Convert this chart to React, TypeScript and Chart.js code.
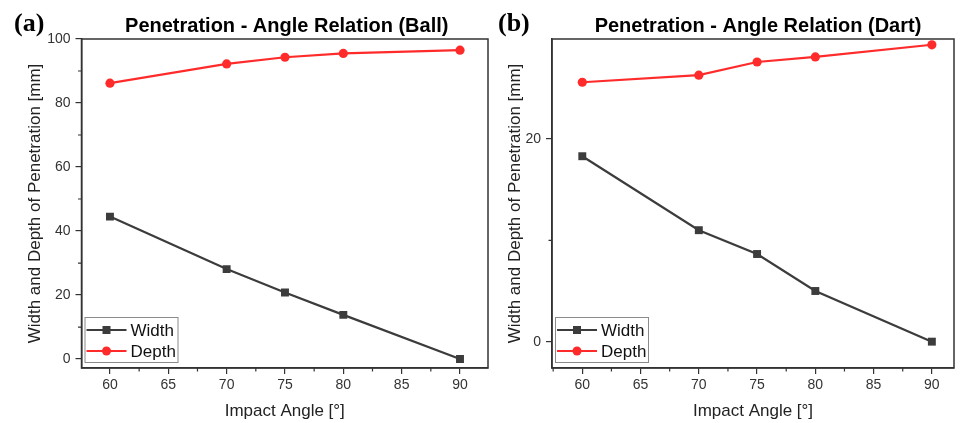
import React, { useEffect, useRef } from "react";
import { Chart, registerables } from "chart.js";

Chart.register(...registerables);

// ---------- data ----------
const angles = [60, 70, 75, 80, 90];
const ballWidth = [44.5, 28.1, 20.8, 13.8, 0];
const ballDepth = [86.2, 92.2, 94.3, 95.5, 96.5];
const dartWidth = [18.3, 11.0, 8.65, 5.0, 0];
const dartDepth = [25.6, 26.3, 27.6, 28.1, 29.3];
const seriesNames = ["Width", "Depth"];
const chartTitles = [
  "Penetration - Angle Relation (Ball)",
  "Penetration - Angle Relation (Dart)",
];
const panelLabels = ["(a)", "(b)"];
const xAxisTitle = "Impact Angle [°]";
const yAxisTitle = "Width and Depth of Penetration [mm]";
const xMajorStep = 5;
const yMajorStep = 20;

const FONT = "'Liberation Sans', Arial, sans-serif";
const WIDTH_COLOR = "#3c3c3c";
const DEPTH_COLOR = "#ff2b2b";
const AXIS_COLOR = "#333333";
const H = 423;

const decorPlugin = {
  id: "decor",
  afterDraw(chart: any, _args: any, opts: any) {
    const ctx = chart.ctx as CanvasRenderingContext2D;
    const a = chart.chartArea;
    ctx.save();
    // frame
    ctx.strokeStyle = AXIS_COLOR;
    ctx.lineWidth = 1.5;
    ctx.strokeRect(a.left, a.top, a.right - a.left, a.bottom - a.top);

    // minor ticks
    const xs = chart.scales.x;
    const ys = chart.scales.y;
    ctx.lineWidth = 1.2;
    ctx.beginPath();
    const x0 = Math.ceil((xs.min - xMajorStep / 2) / xMajorStep) * xMajorStep + xMajorStep / 2;
    for (let v = x0; v <= xs.max; v += xMajorStep) {
      if (v < xs.min) continue;
      const px = xs.getPixelForValue(v);
      ctx.moveTo(px, a.bottom);
      ctx.lineTo(px, a.bottom + 3.5);
    }
    const y0 = Math.ceil((ys.min - yMajorStep / 2) / yMajorStep) * yMajorStep + yMajorStep / 2;
    for (let v = y0; v < ys.max; v += yMajorStep) {
      if (v < ys.min) continue;
      const py = ys.getPixelForValue(v);
      ctx.moveTo(a.left, py);
      ctx.lineTo(a.left - 3.5, py);
    }
    ctx.stroke();

    // title
    ctx.fillStyle = "#000";
    ctx.font = `bold 20px ${FONT}`;
    ctx.textAlign = "center";
    ctx.textBaseline = "alphabetic";
    ctx.fillText(opts.title, (a.left + a.right) / 2 + (opts.titleShift || 0), 32);

    // panel label
    ctx.font = `bold 26px 'Liberation Serif', 'Times New Roman', serif`;
    ctx.textAlign = "left";
    ctx.fillText(opts.label, opts.labelX, 31);

    // legend
    const bx = a.left + 3;
    const by = a.bottom - 51;
    const bw = 93;
    const bh = 45;
    ctx.fillStyle = "#fff";
    ctx.fillRect(bx, by, bw, bh);
    ctx.strokeStyle = "#8a8a8a";
    ctx.lineWidth = 1;
    ctx.strokeRect(bx + 0.5, by + 0.5, bw, bh);
    chart.data.datasets.forEach((ds: any, i: number) => {
      const cy = by + 13 + i * 21;
      ctx.strokeStyle = ds.borderColor;
      ctx.lineWidth = 2.2;
      ctx.beginPath();
      ctx.moveTo(bx + 2, cy);
      ctx.lineTo(bx + 42, cy);
      ctx.stroke();
      ctx.fillStyle = ds.borderColor;
      if (ds.pointStyle === "rect") {
        ctx.fillRect(bx + 22 - 4, cy - 4, 8, 8);
      } else {
        ctx.beginPath();
        ctx.arc(bx + 22, cy, 4.5, 0, Math.PI * 2);
        ctx.fill();
      }
      ctx.fillStyle = "#111";
      ctx.font = `17px ${FONT}`;
      ctx.textAlign = "left";
      ctx.textBaseline = "middle";
      ctx.fillText(ds.label, bx + 46, cy + 1);
    });
    ctx.restore();
  },
};

function makeConfig(p: {
  width: number[];
  depth: number[];
  title: string;
  label: string;
  labelX: number;
  titleShift: number;
  xMin: number;
  xMax: number;
  yMin: number;
  yMax: number;
  yScaleWidth: number;
  yTitlePad: number;
  rightPad: number;
}): any {
  return {
    type: "line",
    data: {
      labels: angles,
      datasets: [
        {
          label: seriesNames[0],
          data: angles.map((x, i) => ({ x, y: p.width[i] })),
          borderColor: WIDTH_COLOR,
          backgroundColor: WIDTH_COLOR,
          borderWidth: 2.2,
          pointStyle: "rect",
          pointRadius: 5.6,
          pointBorderWidth: 0,
          tension: 0,
        },
        {
          label: seriesNames[1],
          data: angles.map((x, i) => ({ x, y: p.depth[i] })),
          borderColor: DEPTH_COLOR,
          backgroundColor: DEPTH_COLOR,
          borderWidth: 2.2,
          pointStyle: "circle",
          pointRadius: 4.6,
          pointBorderWidth: 0,
          tension: 0,
        },
      ],
    },
    options: {
      responsive: false,
      animation: false,
      layout: { padding: { top: 39, right: p.rightPad, left: 0, bottom: 0 } },
      plugins: {
        legend: { display: false },
        title: { display: false },
        tooltip: { enabled: false },
        decor: { title: p.title, label: p.label, labelX: p.labelX, titleShift: p.titleShift },
      },
      scales: {
        x: {
          type: "linear",
          min: p.xMin,
          max: p.xMax,
          afterFit: (s: any) => {
            s.height = H - 368;
          },
          ticks: {
            stepSize: xMajorStep,
            includeBounds: false,
            color: AXIS_COLOR,
            padding: 3,
            font: { family: FONT, size: 14 },
            maxRotation: 0,
          },
          grid: {
            drawOnChartArea: false,
            drawTicks: true,
            tickLength: 6,
            color: AXIS_COLOR,
            lineWidth: 1.2,
          },
          border: { display: true, color: AXIS_COLOR, width: 1.5 },
          title: {
            display: true,
            text: xAxisTitle,
            color: "#222",
            font: { family: FONT, size: 17 },
            padding: { top: 0, bottom: 1 },
          },
        },
        y: {
          type: "linear",
          min: p.yMin,
          max: p.yMax,
          afterFit: (s: any) => {
            s.width = p.yScaleWidth;
          },
          ticks: {
            stepSize: yMajorStep,
            includeBounds: false,
            color: AXIS_COLOR,
            padding: 5,
            font: { family: FONT, size: 14 },
          },
          grid: {
            drawOnChartArea: false,
            drawTicks: true,
            tickLength: 6,
            color: AXIS_COLOR,
            lineWidth: 1.2,
          },
          border: { display: true, color: AXIS_COLOR, width: 1.5 },
          title: {
            display: true,
            text: yAxisTitle,
            color: "#222",
            font: { family: FONT, size: 17 },
            padding: { top: p.yTitlePad, bottom: 0 },
          },
        },
      },
    },
    plugins: [decorPlugin],
  };
}

function Panel({ left, width, config }: { left: number; width: number; config: any }) {
  const ref = useRef<HTMLCanvasElement>(null);
  useEffect(() => {
    const chart = new Chart(ref.current as HTMLCanvasElement, config);
    return () => chart.destroy();
  }, []);
  return (
    <canvas
      ref={ref}
      width={width}
      height={H}
      style={{ position: "absolute", left, top: 0, width, height: H, display: "block" }}
    />
  );
}

export default function App() {
  const ballCfg = makeConfig({
    width: ballWidth,
    depth: ballDepth,
    title: chartTitles[0],
    label: panelLabels[0],
    labelX: 14,
    titleShift: 2,
    xMin: 57.56,
    xMax: 92.4,
    yMin: -2.8,
    yMax: 100,
    yScaleWidth: 81.5,
    yTitlePad: 25,
    rightPad: 6,
  });
  const dartCfg = makeConfig({
    width: dartWidth,
    depth: dartDepth,
    title: chartTitles[1],
    label: panelLabels[1],
    labelX: 8,
    titleShift: 5,
    xMin: 57.4,
    xMax: 91.9,
    yMin: -2.6,
    yMax: 29.87,
    yScaleWidth: 62,
    yTitlePad: 15,
    rightPad: 6,
  });
  return (
    <div style={{ position: "fixed", left: 0, top: 0, width: 960, height: H, background: "#fff" }}>
      <Panel left={0} width={494} config={ballCfg} />
      <Panel left={490} width={470} config={dartCfg} />
    </div>
  );
}
